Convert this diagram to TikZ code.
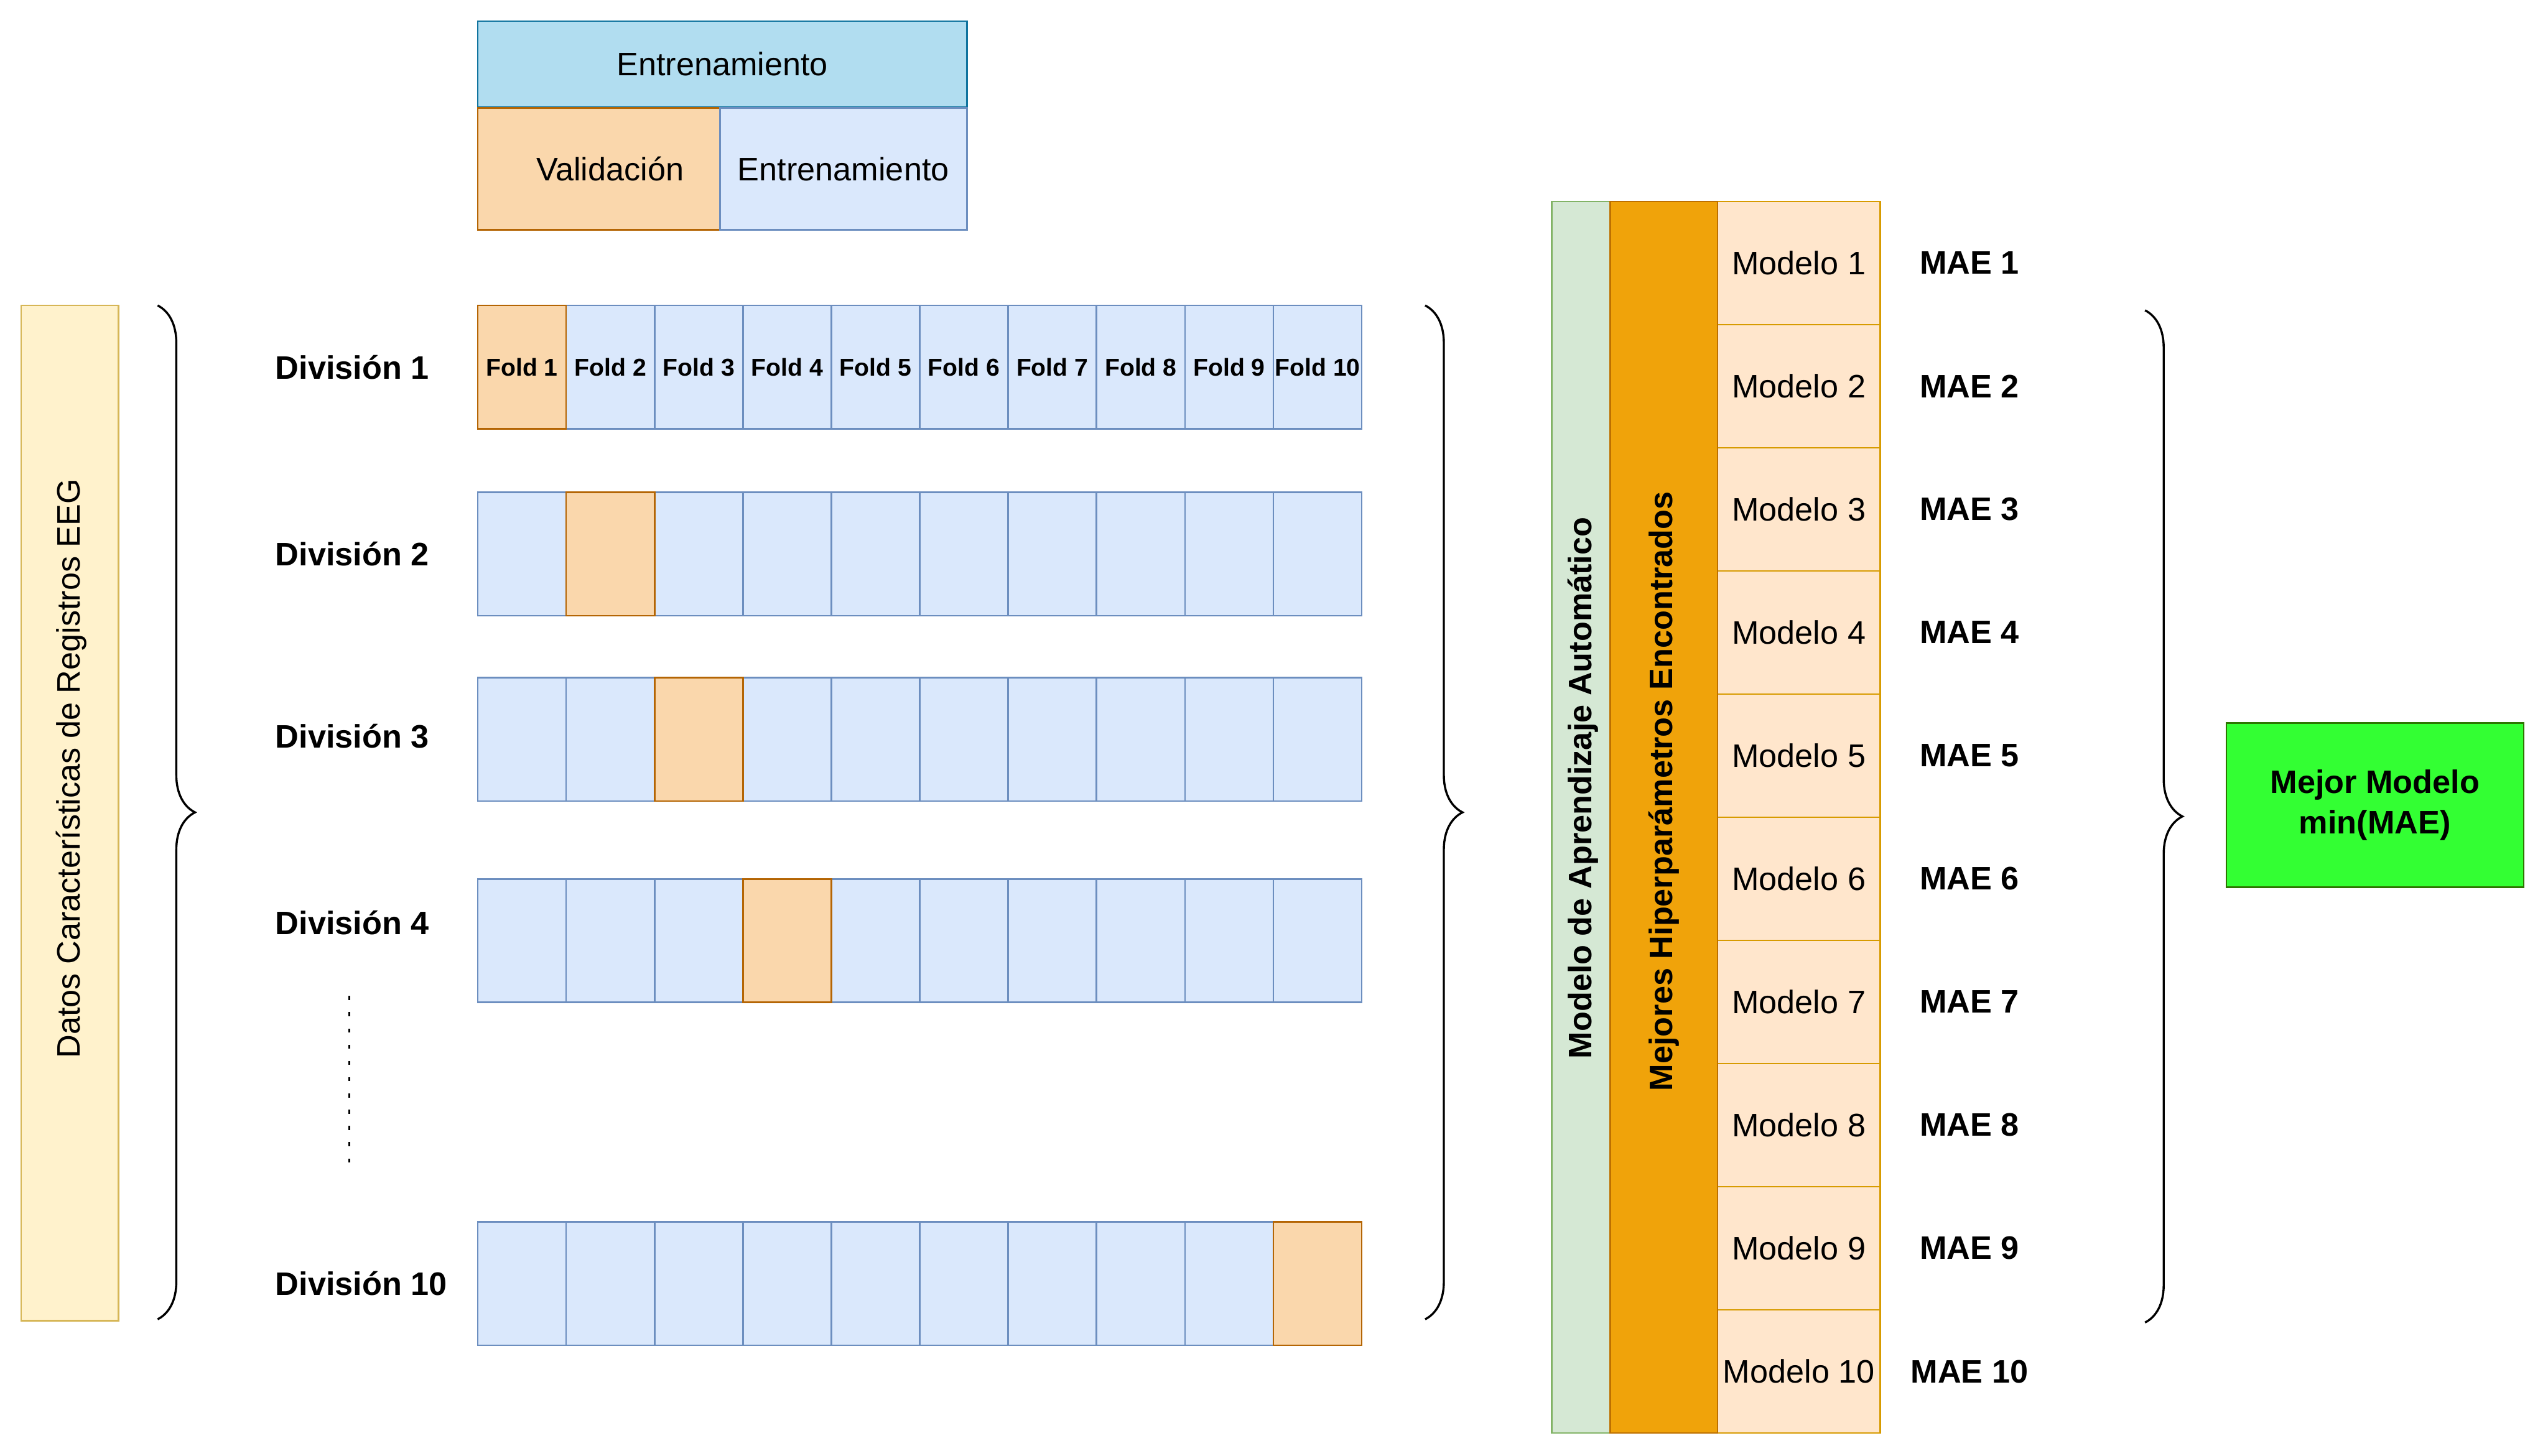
\documentclass[tikz,border=0pt]{standalone}
\usepackage{fontspec}
\setmainfont{Liberation Sans}
\usepackage{tikz}
\usetikzlibrary{positioning,decorations.pathreplacing}
\definecolor{trainfill}{HTML}{DAE8FC}
\definecolor{trainline}{HTML}{6C8EBF}
\definecolor{valfill}{HTML}{FAD7AC}
\definecolor{valline}{HTML}{B46504}
\definecolor{legfill}{HTML}{B1DDF0}
\definecolor{legline}{HTML}{10739E}
\definecolor{datafill}{HTML}{FFF2CC}
\definecolor{dataline}{HTML}{D6B656}
\definecolor{mlfill}{HTML}{D5E8D4}
\definecolor{mlline}{HTML}{82B366}
\definecolor{hpfill}{HTML}{F0A30A}
\definecolor{hpline}{HTML}{BD7000}
\definecolor{modelfill}{HTML}{FFE6CC}
\definecolor{modelline}{HTML}{D79B00}
\definecolor{bestfill}{HTML}{33FF33}
\definecolor{bestline}{HTML}{2D7600}

\begin{document}
\begin{tikzpicture}[x=1pt, y=-1pt,
  box/.style={draw, line width=1pt, inner sep=0pt, outer sep=0pt},
  trainbox/.style={box, draw=trainline, fill=trainfill},
  valbox/.style={box, draw=valline, fill=valfill},
  foldcell/.style={minimum width=54.4pt, minimum height=76pt, anchor=north west, font=\fontsize{15}{18}\selectfont\bfseries},
  plaintxt/.style={font=\fontsize{20}{24}\selectfont},
  boldtxt/.style={font=\fontsize{20}{25}\selectfont\bfseries},
  divtxt/.style={boldtxt, anchor=west},
  modelbox/.style={box, draw=modelline, fill=modelfill, minimum width=100pt, minimum height=75.8pt, plaintxt},
  curly/.style={decorate, decoration={brace, amplitude=23pt}, line width=1.3pt},
  dotline/.style={line width=1.3pt, dash pattern=on 2.5pt off 7.5pt},
]
\fill[white] (0,0) rectangle (1568,896);

% legend
\node[box, draw=legline, fill=legfill, minimum width=301pt, minimum height=53pt, plaintxt] (legtop) at (444.5,39.5) {Entrenamiento};
\node[valbox, minimum width=149pt, minimum height=75pt, plaintxt] (legval) at (368.5,104) {\hspace*{14pt}Validación};
\node[trainbox, minimum width=152pt, minimum height=75pt, plaintxt] (legtrain) at (519,104) {Entrenamiento};

% data block and left brace
\node[box, draw=dataline, fill=datafill, minimum width=625pt, minimum height=60pt, rotate=90] (datos) at (43,500.5) {};
\node[rotate=90, plaintxt] (datostxt) at (44,473) {Datos Características de Registros EEG};
\draw[curly] (97,188) -- (97,812);

% divisions
\foreach \r/\y in {1/226, 2/341, 3/453, 4/568, 10/790}
  \node[divtxt] (div\r) at (166,\y) {División \r};
\draw[dotline] (215,613) -- (215,717);

\foreach \r/\y/\v in {1/188/1, 2/303/2, 3/417/3, 4/541/4, 10/752/10}{
  \foreach \c in {1,...,10}{
    \ifnum\c=\v\relax\else
      \node[trainbox, foldcell] (r\r c\c) at ({294+54.4*(\c-1)},\y) {\ifnum\r=1 Fold \c\fi};
    \fi
  }
  \node[valbox, foldcell] (r\r c\v) at ({294+54.4*(\v-1)},\y) {\ifnum\r=1 Fold \v\fi};
}
\draw[curly] (877,188) -- (877,812);

% models
\node[box, draw=mlline, fill=mlfill, minimum width=758pt, minimum height=36pt, rotate=90] (ml) at (973,503) {};
\node[rotate=90, boldtxt] (mltxt) at (974,485) {Modelo de Aprendizaje Automático};
\foreach \i in {1,...,10}{
  \node[modelbox] (m\i) at (1107,{124+75.8*(\i-0.5)}) {Modelo \i};
  \node[boldtxt] (mae\i) at (1212,{124+75.8*(\i-0.5)}) {MAE \i};
}
\node[box, draw=hpline, fill=hpfill, minimum width=758pt, minimum height=66pt, rotate=90] (hp) at (1024,503) {};
\node[rotate=90, boldtxt] (hptxt) at (1024,487) {Mejores Hiperparámetros Encontrados};
\draw[curly] (1320,191) -- (1320,814);

\node[box, draw=bestline, fill=bestfill, minimum width=183pt, minimum height=101pt, align=center, boldtxt] (best) at (1461.5,495.5) {Mejor Modelo\\min(MAE)};
\end{tikzpicture}
\end{document}
